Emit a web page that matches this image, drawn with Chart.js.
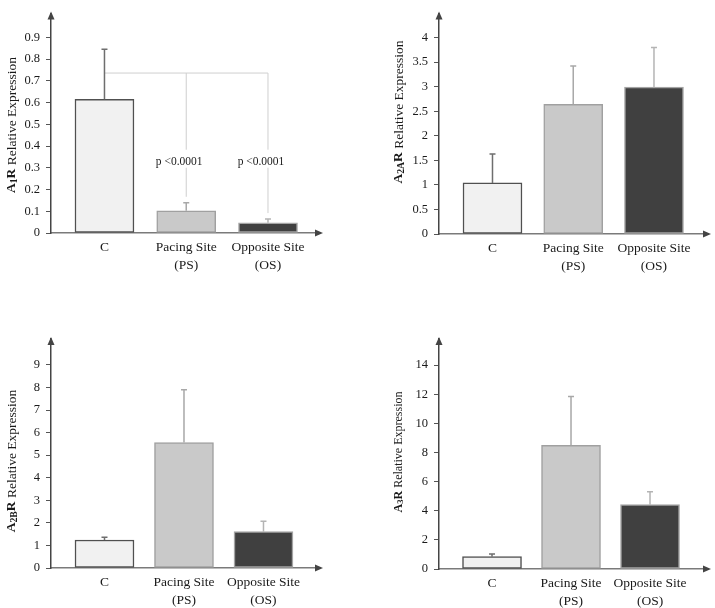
<!DOCTYPE html>
<html>
<head>
<meta charset="utf-8">
<script src="https://cdn.jsdelivr.net/npm/chart.js@4.4.1/dist/chart.umd.min.js"></script>
<style>
  html, body { margin: 0; padding: 0; background: #fff; }
  #wrap { position: relative; width: 715px; height: 608px; overflow: hidden; }
  canvas { position: absolute; }
</style>
</head>
<body>
<div id="wrap">
  <canvas id="c1" width="357" height="300" style="left:0;top:0"></canvas>
  <canvas id="c2" width="355" height="300" style="left:360px;top:0"></canvas>
  <canvas id="c3" width="357" height="308" style="left:0;top:300px"></canvas>
  <canvas id="c4" width="355" height="308" style="left:360px;top:300px"></canvas>
</div>
<script>
// ── Data ─────────────────────────────────────────────────────────────
const CATEGORIES = ['C', ['Pacing Site', '(PS)'], ['Opposite Site', '(OS)']];
const CAT_POS = [1, 2, 3];

const A1R_MEAN  = [0.615, 0.102, 0.047];
const A1R_ERR   = [0.231, 0.037, 0.017];
const A1R_TICKS = [0, 0.1, 0.2, 0.3, 0.4, 0.5, 0.6, 0.7, 0.8, 0.9];

const A2AR_MEAN  = [1.04, 2.64, 2.99];
const A2AR_ERR   = [0.59, 0.78, 0.81];
const A2AR_TICKS = [0, 0.5, 1, 1.5, 2, 2.5, 3, 3.5, 4];

const A2BR_MEAN  = [1.24, 5.56, 1.61];
const A2BR_ERR   = [0.12, 2.34, 0.46];
const A2BR_TICKS = [0, 1, 2, 3, 4, 5, 6, 7, 8, 9];

const A3R_MEAN  = [0.85, 8.5, 4.42];
const A3R_ERR   = [0.18, 3.35, 0.89];
const A3R_TICKS = [0, 2, 4, 6, 8, 10, 12, 14];

const P_LABEL = 'p <0.0001';
const A1R_BRACKET_AT = 0.736;
const A1R_PTEXT_AT = 0.328;

// ── Styles ───────────────────────────────────────────────────────────
const FILL = ['#f1f1f1', '#c9c9c9', '#404040'];
const EDGE = ['#505050', '#a0a0a0', '#a4a4a4'];
const ERRC = ['#6e6e6e', '#a8a8a8', '#b4b4b4'];
const FAMILY = '"Liberation Serif", "Times New Roman", serif';
const INK = '#1a1a1a';

Chart.defaults.font.family = FAMILY;
Chart.defaults.color = INK;

// title parts: [text, 0 normal | 1 bold | 2 bold small]
const PANELS = [
  { id: 'c1', title: [['A', 1], ['1', 2], ['R', 1], [' Relative Expression', 0]],
    mean: A1R_MEAN, err: A1R_ERR, ticks: A1R_TICKS, yMax: 1.01,
    xMin: 0.346, xMax: 3.636, yW: 51, xH: 40, pad: { left: 0, top: 5, right: 37, bottom: 27 },
    tx: 12, ty: 125, tSize: 13.5, bracket: true },
  { id: 'c2', title: [['A', 1], ['2A', 2], ['R', 1], [' Relative Expression', 0]],
    mean: A2AR_MEAN, err: A2AR_ERR, ticks: A2AR_TICKS, yMax: 4.49,
    xMin: 0.3375, xMax: 3.669, yW: 79, xH: 40, pad: { left: 0, top: 5, right: 7, bottom: 26 },
    tx: 39, ty: 112, tSize: 13.5 },
  { id: 'c3', title: [['A', 1], ['2B', 2], ['R', 1], [' Relative Expression', 0]],
    mean: A2BR_MEAN, err: A2BR_ERR, ticks: A2BR_TICKS, yMax: 10.15,
    xMin: 0.327, xMax: 3.711, yW: 51, xH: 40, pad: { left: 0, top: 39, right: 37, bottom: 0 },
    tx: 12, ty: 161, tSize: 13.5 },
  { id: 'c4', title: [['A', 1], ['3', 2], ['R', 1], [' Relative Expression', 0]],
    mean: A3R_MEAN, err: A3R_ERR, ticks: A3R_TICKS, yMax: 15.8,
    xMin: 0.329, xMax: 3.734, yW: 79, xH: 39, pad: { left: 0, top: 39, right: 7, bottom: 0 },
    tx: 39, ty: 152, tSize: 12 },
];

function makeDeco(p) {
  return {
    id: 'deco_' + p.id,
    beforeDatasetsDraw(chart) {
      if (!p.bracket) return;
      const ctx = chart.ctx, xs = chart.scales.x, ys = chart.scales.y;
      const yb = ys.getPixelForValue(A1R_BRACKET_AT);
      const yt = ys.getPixelForValue(A1R_PTEXT_AT);
      ctx.save();
      ctx.strokeStyle = '#cfcfcf';
      ctx.lineWidth = 1;
      ctx.beginPath();
      ctx.moveTo(xs.getPixelForValue(CAT_POS[0]), yb);
      ctx.lineTo(xs.getPixelForValue(CAT_POS[2]), yb);
      [1, 2].forEach(i => {
        const x = xs.getPixelForValue(CAT_POS[i]);
        const errTop = ys.getPixelForValue(p.mean[i] + p.err[i]);
        ctx.moveTo(x, yb); ctx.lineTo(x, yt - 12);
        ctx.moveTo(x, yt + 6); ctx.lineTo(x, errTop - 6);
      });
      ctx.stroke();
      ctx.fillStyle = INK;
      ctx.font = '11.5px ' + FAMILY;
      ctx.textAlign = 'center';
      ctx.textBaseline = 'middle';
      [1, 2].forEach(i => ctx.fillText(P_LABEL, xs.getPixelForValue(CAT_POS[i]) - 7, yt));
      ctx.restore();
    },
    afterDatasetsDraw(chart) {
      const ctx = chart.ctx, ys = chart.scales.y;
      chart.getDatasetMeta(0).data.forEach((bar, i) => {
        const top = ys.getPixelForValue(p.mean[i] + p.err[i]);
        ctx.save();
        ctx.strokeStyle = ERRC[i];
        ctx.lineWidth = 1.5;
        ctx.beginPath();
        ctx.moveTo(bar.x, bar.y); ctx.lineTo(bar.x, top);
        ctx.moveTo(bar.x - 3, top); ctx.lineTo(bar.x + 3, top);
        ctx.stroke();
        ctx.restore();
      });
    },
    afterDraw(chart) {
      const ctx = chart.ctx, a = chart.chartArea;
      ctx.save();
      // axis arrows
      ctx.fillStyle = '#444';
      ctx.beginPath();
      ctx.moveTo(a.left, a.top - 2); ctx.lineTo(a.left - 3.5, a.top + 6); ctx.lineTo(a.left + 3.5, a.top + 6);
      ctx.closePath(); ctx.fill();
      ctx.beginPath();
      ctx.moveTo(a.right + 3, a.bottom); ctx.lineTo(a.right - 5, a.bottom - 3.5); ctx.lineTo(a.right - 5, a.bottom + 3.5);
      ctx.closePath(); ctx.fill();
      // y title with bold receptor name
      const s = p.tSize;
      const fonts = { 0: `${s}px ${FAMILY}`, 1: `bold ${s}px ${FAMILY}`, 2: `bold ${s * 0.72}px ${FAMILY}` };
      ctx.translate(p.tx, p.ty);
      ctx.rotate(-Math.PI / 2);
      let total = 0;
      p.title.forEach(([t, k]) => { ctx.font = fonts[k]; total += ctx.measureText(t).width; });
      let x = -total / 2;
      ctx.fillStyle = INK;
      ctx.textAlign = 'left';
      ctx.textBaseline = 'middle';
      p.title.forEach(([t, k]) => {
        ctx.font = fonts[k];
        ctx.fillText(t, x, k === 2 ? 2 : 0);
        x += ctx.measureText(t).width;
      });
      ctx.restore();
    }
  };
}

PANELS.forEach(p => {
  new Chart(document.getElementById(p.id), {
    type: 'bar',
    data: {
      datasets: [{
        data: p.mean.map((v, i) => ({ x: CAT_POS[i], y: v })),
        backgroundColor: FILL, borderColor: EDGE, borderWidth: 1.5,
        borderSkipped: false, barThickness: 59,
      }]
    },
    options: {
      responsive: false,
      animation: false,
      events: [],
      layout: { padding: p.pad },
      plugins: { legend: { display: false }, tooltip: { enabled: false } },
      scales: {
        x: {
          type: 'linear', min: p.xMin, max: p.xMax, offset: false,
          afterBuildTicks: sc => { sc.ticks = CAT_POS.map(v => ({ value: v })); },
          afterFit: sc => { sc.height = p.xH; },
          grid: { display: false, drawTicks: false },
          border: { display: true, color: '#7a7a7a', width: 1.5 },
          ticks: { callback: v => CATEGORIES[v - 1], maxRotation: 0, autoSkip: false, padding: 6,
                   color: INK, font: { size: 13.5, lineHeight: 1.3 } }
        },
        y: {
          min: 0, max: p.yMax,
          afterBuildTicks: sc => { sc.ticks = p.ticks.map(v => ({ value: v })); },
          afterFit: sc => { sc.width = p.yW; },
          grid: { display: true, drawOnChartArea: false, drawTicks: true, tickLength: 5, color: '#555' },
          border: { display: true, color: '#444', width: 1.5 },
          ticks: { callback: v => String(v), padding: 6, color: INK, font: { size: 12.5 } }
        }
      }
    },
    plugins: [makeDeco(p)]
  });
});
</script>
</body>
</html>
